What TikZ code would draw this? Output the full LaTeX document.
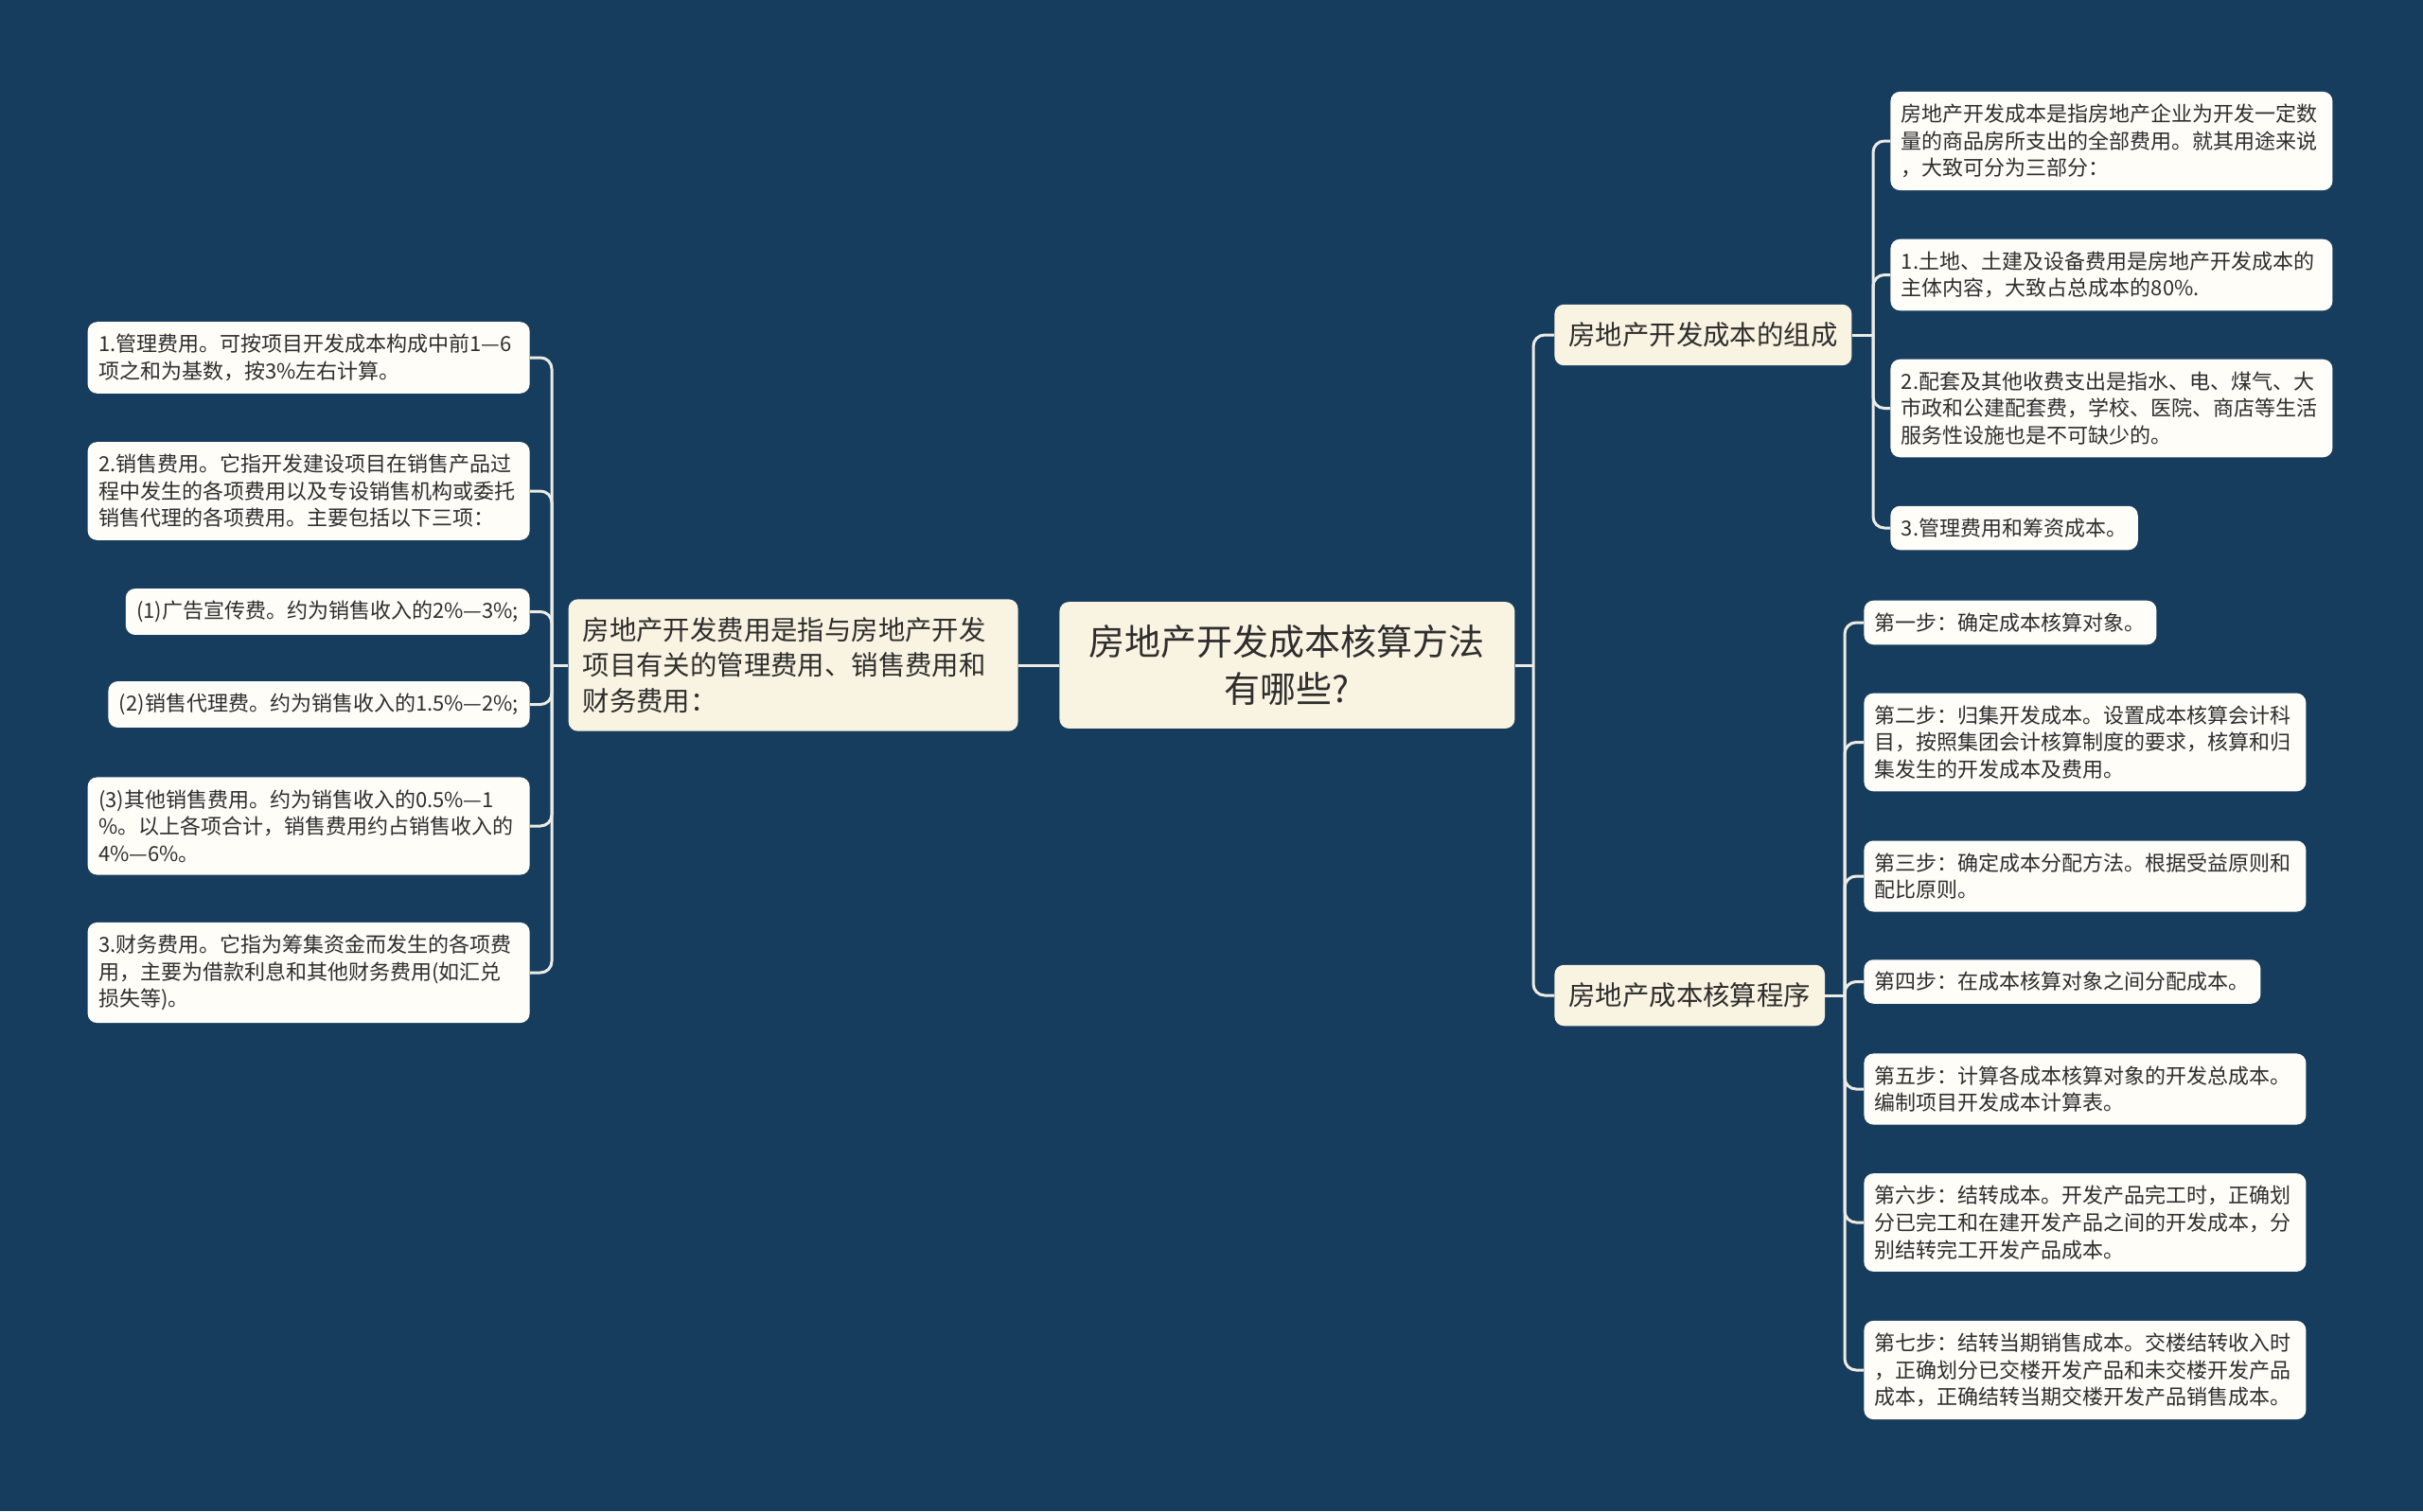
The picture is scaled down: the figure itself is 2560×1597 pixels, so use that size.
\documentclass[tikz,border=0pt]{standalone}
\usepackage{fontspec}
\newfontfamily\cjk{Noto Sans CJK SC}
\definecolor{bg}{HTML}{173D5E}
\definecolor{leaf}{HTML}{FEFDF8}
\definecolor{lvl}{HTML}{F9F3E1}
\definecolor{txt}{HTML}{2E2E2E}
\definecolor{ln}{HTML}{ECEBE4}
\begin{document}
\begin{tikzpicture}[x=0.5pt,y=-0.5pt,
  leafbox/.style={fill=leaf, rounded corners=5pt, inner xsep=5.75pt, inner ysep=6.5pt, text=txt, align=left, font=\cjk\fontsize{11}{14.3}\selectfont},
  wide/.style={text width=222pt},
  lvlbox/.style={fill=lvl, rounded corners=5pt, inner xsep=7.5pt, inner ysep=9.5pt, text=txt, align=left, font=\cjk\fontsize{14.2}{18.75}\selectfont},
  rootbox/.style={fill=lvl, rounded corners=5pt, inner xsep=8pt, inner ysep=12pt, minimum width=240.5pt, text=txt, align=center, font=\cjk\fontsize{19}{25.3}\selectfont},
  conn/.style={draw=ln, line width=1.5pt, rounded corners=6pt}]
\useasboundingbox (0,0) rectangle (2560,1597);
\fill[bg] (0,0) rectangle (2560,1597);

% root
\node[rootbox, anchor=west] (C) at (1119,703) {房地产开发成本核算方法\\有哪些?};

% level 1
\node[lvlbox, text width=222.5pt, anchor=east] (M) at (1076,703) {房地产开发费用是指与房地产开发\\项目有关的管理费用、销售费用和\\财务费用：};
\node[lvlbox, anchor=west] (A) at (1642,354) {房地产开发成本的组成};
\node[lvlbox, anchor=west] (B) at (1642,1052) {房地产成本核算程序};

% left leaves
\node[leafbox, wide, anchor=east] (L1) at (560,378) {1.管理费用。可按项目开发成本构成中前1—6\\项之和为基数，按3\%左右计算。};
\node[leafbox, wide, anchor=east] (L2) at (560,519) {2.销售费用。它指开发建设项目在销售产品过\\程中发生的各项费用以及专设销售机构或委托\\销售代理的各项费用。主要包括以下三项：};
\node[leafbox, anchor=east] (L3) at (560,646.5) {(1)广告宣传费。约为销售收入的2\%—3\%;};
\node[leafbox, anchor=east] (L4) at (560,744.5) {(2)销售代理费。约为销售收入的1.5\%—2\%;};
\node[leafbox, wide, anchor=east] (L5) at (560,873) {(3)其他销售费用。约为销售收入的0.5\%—1\\\%。以上各项合计，销售费用约占销售收入的\\4\%—6\%。};
\node[leafbox, wide, anchor=east] (L6) at (560,1028) {3.财务费用。它指为筹集资金而发生的各项费\\用，主要为借款利息和其他财务费用(如汇兑\\损失等)。};

% right top leaves
\node[leafbox, wide, anchor=west] (R1) at (1997,149) {房地产开发成本是指房地产企业为开发一定数\\量的商品房所支出的全部费用。就其用途来说\\，大致可分为三部分：};
\node[leafbox, wide, anchor=west] (R2) at (1997,290.5) {1.土地、土建及设备费用是房地产开发成本的\\主体内容，大致占总成本的80\%.};
\node[leafbox, wide, anchor=west] (R3) at (1997,431.5) {2.配套及其他收费支出是指水、电、煤气、大\\市政和公建配套费，学校、医院、商店等生活\\服务性设施也是不可缺少的。};
\node[leafbox, anchor=west] (R4) at (1997,558) {3.管理费用和筹资成本。};

% right bottom leaves
\node[leafbox, anchor=west] (S1) at (1969,658) {第一步：确定成本核算对象。};
\node[leafbox, wide, anchor=west] (S2) at (1969,784.5) {第二步：归集开发成本。设置成本核算会计科\\目，按照集团会计核算制度的要求，核算和归\\集发生的开发成本及费用。};
\node[leafbox, wide, anchor=west] (S3) at (1969,926) {第三步：确定成本分配方法。根据受益原则和\\配比原则。};
\node[leafbox, anchor=west] (S4) at (1969,1037.5) {第四步：在成本核算对象之间分配成本。};
\node[leafbox, wide, anchor=west] (S5) at (1969,1151) {第五步：计算各成本核算对象的开发总成本。\\编制项目开发成本计算表。};
\node[leafbox, wide, anchor=west] (S6) at (1969,1292) {第六步：结转成本。开发产品完工时，正确划\\分已完工和在建开发产品之间的开发成本，分\\别结转完工开发产品成本。};
\node[leafbox, wide, anchor=west] (S7) at (1969,1448) {第七步：结转当期销售成本。交楼结转收入时\\，正确划分已交楼开发产品和未交楼开发产品\\成本，正确结转当期交楼开发产品销售成本。};

% junctions
\coordinate (jL) at (583,703);
\coordinate (jC) at (1620,703);
\coordinate (jA) at (1979,354);
\coordinate (jB) at (1949,1052);

% connectors
\draw[conn] (C.west) -- (M.east);
\draw[conn] (M.west) -- (jL);
\foreach \n in {L1,L2,L3,L4,L5,L6} \draw[conn] (jL) |- (\n.east);
\draw[conn] (C.east) -- (jC);
\draw[conn] (jC) |- (A.west);
\draw[conn] (jC) |- (B.west);
\draw[conn] (A.east) -- (jA);
\foreach \n in {R1,R2,R3,R4} \draw[conn] (jA) |- (\n.west);
\draw[conn] (B.east) -- (jB);
\foreach \n in {S1,S2,S3,S4,S5,S6,S7} \draw[conn] (jB) |- (\n.west);
\end{tikzpicture}
\end{document}
